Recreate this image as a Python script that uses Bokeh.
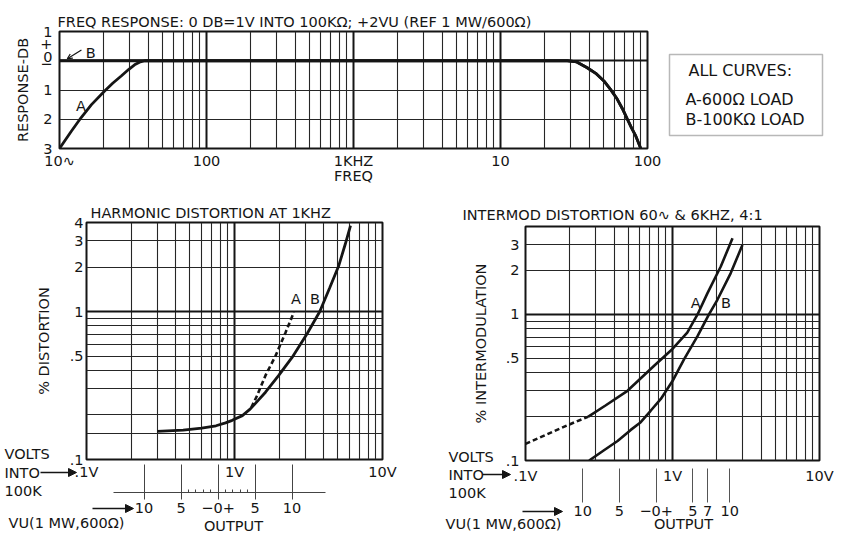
from bokeh.plotting import figure
from bokeh.models import (FixedTicker, LogAxis, Range1d, Label, Arrow, NormalHead,
                          OpenHead, BoxAnnotation, GridBox)
from bokeh.embed import file_html
from bokeh.resources import INLINE

FONT = "DejaVu Sans"
FS = "14.5px"
INK = "#151515"
GRIDC = "#262626"

# ---------------- data ----------------
# frequency response: Hz, dB
fr_a_hz = [10, 12, 14, 16.5, 20.2, 23, 26.3, 29.5, 32.4, 35, 38, 100, 1000, 10000,
           28500, 33000, 38900, 45000, 50500, 56000, 62200, 67500, 72800, 78000, 82800, 90000]
fr_a_db = [-3.0, -2.42, -1.95, -1.5, -1.04, -0.77, -0.52, -0.3, -0.14, -0.05, 0, 0, 0, 0,
           0, -0.04, -0.24, -0.45, -0.69, -0.98, -1.31, -1.64, -1.99, -2.3, -2.55, -3.0]
fr_b_hz = [10, 100, 1000, 10000, 28500, 33000, 38900, 45000, 50500, 56000, 62200, 67500,
           72800, 78000, 82800, 90000]
fr_b_db = [0, 0, 0, 0, 0, -0.04, -0.24, -0.45, -0.69, -0.98, -1.31, -1.64, -1.99, -2.3,
           -2.55, -3.0]
fr_ticks = [10, 100, 1000, 10000, 100000]
fr_tick_labels = ["10∿", "100", "1KHZ", "10", "100"]
db_ticks = [1, 0.57, 0.13, -0.11, -1, -2, -3]
db_tick_labels = ["1", "+", "0", "−", "1", "2", "3"]

# harmonic distortion at 1 kHz: volts, %
hd_b_v = [0.3, 0.45, 0.6, 0.75, 0.87, 0.965, 1.13, 1.28, 1.45, 1.62, 1.99, 2.45, 3.1,
          3.77, 4.4, 5.07, 5.6, 6.08]
hd_b_pct = [0.155, 0.158, 0.163, 0.169, 0.177, 0.184, 0.198, 0.22, 0.252, 0.285, 0.37,
            0.49, 0.71, 1.0, 1.45, 2.05, 2.85, 3.81]
hd_a_v = [1.3, 1.42, 1.62, 1.89, 2.21, 2.52]
hd_a_pct = [0.225, 0.27, 0.37, 0.5, 0.72, 0.99]

# intermodulation: volts, %
im_a_dash_v = [0.1, 0.14, 0.192, 0.266]
im_a_dash_pct = [0.13, 0.151, 0.174, 0.199]
im_a_v = [0.266, 0.35, 0.494, 0.75, 1.0, 1.26, 1.48, 1.73, 2.13, 2.56]
im_a_pct = [0.199, 0.238, 0.30, 0.445, 0.58, 0.75, 1.0, 1.40, 2.13, 3.32]
im_b_v = [0.271, 0.34, 0.423, 0.52, 0.608, 0.71, 0.833, 1.0, 1.2, 1.48, 1.77, 2.02,
          2.49, 2.99]
im_b_pct = [0.1, 0.117, 0.136, 0.162, 0.183, 0.219, 0.264, 0.35, 0.494, 0.71, 1.0, 1.26,
            1.92, 2.99]

volt_ticks = [0.1, 1, 10]
volt_labels = [".1V", "1V", "10V"]
hd_pct_ticks = [0.1, 0.5, 1, 2, 3, 4]
hd_pct_labels = [".1", ".5", "1", "2", "3", "4"]
im_pct_ticks = [0.1, 0.5, 1, 2, 3]
im_pct_labels = [".1", ".5", "1", "2", "3"]

hd_vu_ticks = [-10, -5, 0, 5, 10]
hd_vu_labels = ["10", "5", "−0+", "5", "10"]
hd_vu_minor = [-4, -3, -2, -1, 1, 2, 3, 4]
im_vu_ticks = [-10, -5, 0, 5, 7, 10]
im_vu_labels = ["10", "5", "−0+", "5", "7", "10"]


def vu_to_volts(vu):
    # 0 VU = 1 mW into 600 ohm = 0.7746 V
    return 0.7746 * 10 ** (vu / 20.0)


def log_minors(decades):
    return [m * d for d in decades for m in range(2, 10)]


def style_common(p):
    p.background_fill_color = "white"
    p.border_fill_color = "white"
    p.outline_line_color = INK
    p.outline_line_width = 2
    p.title.text_font = FONT
    p.title.text_font_size = FS
    p.title.text_font_style = "normal"
    p.title.text_color = INK
    p.title.align = "left"


def style_axis(ax, standoff):
    ax.major_label_text_font = FONT
    ax.major_label_text_font_size = FS
    ax.major_label_text_color = INK
    ax.major_tick_in = 0
    ax.major_tick_out = 0
    ax.minor_tick_in = 0
    ax.minor_tick_out = 0
    ax.axis_line_color = None
    ax.major_label_standoff = standoff
    ax.axis_label_text_font = FONT
    ax.axis_label_text_font_size = FS
    ax.axis_label_text_font_style = "normal"
    ax.axis_label_text_color = INK


def style_grid(g, major_w, minor_w):
    g.grid_line_color = INK
    g.grid_line_width = major_w
    g.minor_grid_line_color = GRIDC
    g.minor_grid_line_width = minor_w


def txt(p, x, y, s, align="left", size=FS):
    p.add_layout(Label(x=x, y=y, text=s, text_font=FONT, text_font_size=size,
                       text_color=INK, text_align=align, text_baseline="middle"))


def arrow(p, x0, y0, x1, y1):
    p.add_layout(Arrow(end=NormalHead(size=8, fill_color=INK, line_color=INK),
                       x_start=x0, y_start=y0, x_end=x1, y_end=y1,
                       line_color=INK, line_width=1.3))


# ---------------- top: frequency response ----------------
top = figure(width=848, height=186, x_axis_type="log", x_range=Range1d(10, 1e5),
             y_range=Range1d(-3, 1), output_backend="svg", toolbar_location=None,
             min_border_left=59, min_border_right=201, min_border_top=31,
             min_border_bottom=38, frame_align=False,
             title="FREQ RESPONSE: 0 DB=1V INTO 100KΩ; +2VU (REF 1 MW/600Ω)")
style_common(top)
top.title.standoff = 3
top.title.offset = -2
xa = top.xaxis[0]
xa.ticker = FixedTicker(ticks=fr_ticks)
xa.major_label_overrides = dict(zip(fr_ticks, fr_tick_labels))
style_axis(xa, 4)
xa.axis_label = "FREQ"
xa.axis_label_standoff = -4
ya = top.yaxis[0]
ya.ticker = FixedTicker(ticks=db_ticks)
ya.major_label_overrides = dict(zip(db_ticks, db_tick_labels))
style_axis(ya, 7)
ya.axis_label = "RESPONSE-DB"
ya.axis_label_standoff = 6
top.xgrid[0].ticker = FixedTicker(ticks=[100, 1000, 10000],
                                  minor_ticks=log_minors([10, 100, 1000, 10000]))
top.ygrid[0].ticker = FixedTicker(ticks=[0], minor_ticks=[-1, -2])
style_grid(top.xgrid[0], 2, 1.1)
style_grid(top.ygrid[0], 2, 1.2)
top.line(fr_a_hz, fr_a_db, line_width=2.8, line_color=INK)
top.line(fr_b_hz, fr_b_db, line_width=2.8, line_color=INK)
txt(top, 14.0, -1.55, "A", "center")
txt(top, 16.3, 0.27, "B", "center")
top.add_layout(Arrow(end=OpenHead(size=5, line_color=INK, line_width=1.2),
                     x_start=14.1, y_start=0.37, x_end=11.3, y_end=0.07,
                     line_color=INK, line_width=1.2))


# ---------------- lower charts ----------------
def lower_fig(width, bl, br, bt, bb, title, yticks, ylabels, ylabel, ystand, lstand):
    p = figure(width=width, height=347, x_axis_type="log", y_axis_type="log",
               x_range=Range1d(0.1, 10), y_range=Range1d(0.1, 4),
               output_backend="svg", toolbar_location=None, frame_align=False,
               min_border_left=bl, min_border_right=br, min_border_top=bt,
               min_border_bottom=bb, title=title)
    style_common(p)
    xa = p.xaxis[0]
    xa.ticker = FixedTicker(ticks=volt_ticks)
    xa.major_label_overrides = dict(zip(volt_ticks, volt_labels))
    ya = p.yaxis[0]
    ya.ticker = FixedTicker(ticks=yticks)
    ya.major_label_overrides = dict(zip(yticks, ylabels))
    style_axis(ya, ystand)
    ya.axis_label = ylabel
    ya.axis_label_standoff = lstand
    p.xgrid[0].ticker = FixedTicker(ticks=[1], minor_ticks=log_minors([0.1, 1]))
    style_grid(p.xgrid[0], 2, 1.1)
    style_grid(p.ygrid[0], 2, 1.1)
    return p


# lower left: harmonic distortion (frame at page x 86..382, y 222..459)
hd = lower_fig(430, 86, 48, 36, 74, "HARMONIC DISTORTION AT 1KHZ",
               hd_pct_ticks, hd_pct_labels, "% DISTORTION", 3, 15)
hd.title.standoff = 4
hd.title.offset = 4
style_axis(hd.xaxis[0], 4)
hd.ygrid[0].ticker = FixedTicker(ticks=[1], minor_ticks=[0.15, 0.2, 0.3, 0.4, 0.5, 0.6,
                                                         0.7, 0.8, 0.9, 2, 3])
spacer = LogAxis(ticker=FixedTicker(ticks=[1]), major_label_overrides={1: ""})
style_axis(spacer, 0)
spacer.major_tick_out = 10
spacer.major_tick_line_color = "white"
spacer.major_label_text_font_size = "1px"
hd.add_layout(spacer, "below")


def bl_x(px):
    return 0.1 * 10 ** ((px - 86) / 148.0)


hd_vu = LogAxis(ticker=FixedTicker(ticks=[vu_to_volts(u) for u in hd_vu_ticks],
                                   minor_ticks=[vu_to_volts(u) for u in hd_vu_minor]),
                major_label_overrides={vu_to_volts(u): s for u, s in zip(hd_vu_ticks, hd_vu_labels)},
                bounds=(bl_x(113), bl_x(325)))
style_axis(hd_vu, 3)
hd_vu.axis_line_color = "#444444"
hd_vu.axis_line_width = 1
hd_vu.major_tick_in = 28
hd_vu.major_tick_out = 7
hd_vu.major_tick_line_color = "#444444"
hd_vu.minor_tick_in = 3
hd_vu.minor_tick_line_color = "#444444"
hd.add_layout(hd_vu, "below")
hd.line(hd_b_v, hd_b_pct, line_width=2.8, line_color=INK)
hd.line(hd_a_v, hd_a_pct, line_width=2.6, line_color=INK, line_dash="5 3")
txt(hd, 2.6, 1.22, "A", "center")
txt(hd, 3.5, 1.22, "B", "center")

# lower right: intermodulation (frame at page x 525..819, y 226..460)
im = lower_fig(418, 95, 29, 40, 73, "INTERMOD DISTORTION 60∿ & 6KHZ, 4:1",
               im_pct_ticks, im_pct_labels, "% INTERMODULATION", 6, 14)
im.title.standoff = 8
im.title.offset = -63
style_axis(im.xaxis[0], 7)
im.ygrid[0].ticker = FixedTicker(ticks=[1], minor_ticks=[0.2, 0.3, 0.4, 0.5, 0.6, 0.7,
                                                         0.8, 0.9, 2, 3])
im_vu = LogAxis(ticker=FixedTicker(ticks=[vu_to_volts(u) for u in im_vu_ticks]),
                major_label_overrides={vu_to_volts(u): s for u, s in zip(im_vu_ticks, im_vu_labels)})
style_axis(im_vu, 3)
im_vu.major_tick_in = 18
im_vu.major_tick_out = 16
im_vu.major_tick_line_color = "#555555"
im.add_layout(im_vu, "below")
im.line(im_a_dash_v, im_a_dash_pct, line_width=2.6, line_color=INK, line_dash="5 3")
im.line(im_a_v, im_a_pct, line_width=2.6, line_color=INK)
im.line(im_b_v, im_b_pct, line_width=2.6, line_color=INK)
txt(im, 1.44, 1.19, "A", "center")
txt(im, 2.31, 1.19, "B", "center")

# ---------------- transparent overlay for the texts outside the plot frames ----------------
ov = figure(width=848, height=533, x_range=Range1d(0, 848), y_range=Range1d(533, 0),
            x_axis_location=None, y_axis_location=None, min_border=0,
            toolbar_location=None, output_backend="svg", frame_align=False)
ov.background_fill_color = None
ov.border_fill_color = None
ov.outline_line_color = None
for g in ov.grid:
    g.visible = False

# legend box
ov.add_layout(BoxAnnotation(left=669, right=822, top=54, bottom=135, fill_alpha=0,
                            line_color=INK, line_width=1.5))
txt(ov, 688, 70, "ALL CURVES:", size="16px")
txt(ov, 685, 99, "A-600Ω LOAD", size="16px")
txt(ov, 685, 119, "B-100KΩ LOAD", size="16px")

# lower left scale notes
txt(ov, 4, 453, "VOLTS")
txt(ov, 4, 472, "INTO")
arrow(ov, 40, 472, 76, 472)
txt(ov, 4, 490, "100K")
arrow(ov, 92, 508, 133, 508)
txt(ov, 8, 522, "VU(1 MW,600Ω)")
txt(ov, 233, 525, "OUTPUT", "center")

# lower right scale notes
txt(ov, 448, 456, "VOLTS")
txt(ov, 448, 474, "INTO")
arrow(ov, 482, 474, 510, 474)
txt(ov, 448, 492, "100K")
arrow(ov, 522, 511, 562, 511)
txt(ov, 445, 523, "VU(1 MW,600Ω)")
txt(ov, 683, 523, "OUTPUT", "center")

page = GridBox(children=[(top, 0, 0, 1, 2), (hd, 1, 0), (im, 1, 1), (ov, 0, 0, 2, 2)])
open("out.html", "w").write(file_html(page, INLINE))
